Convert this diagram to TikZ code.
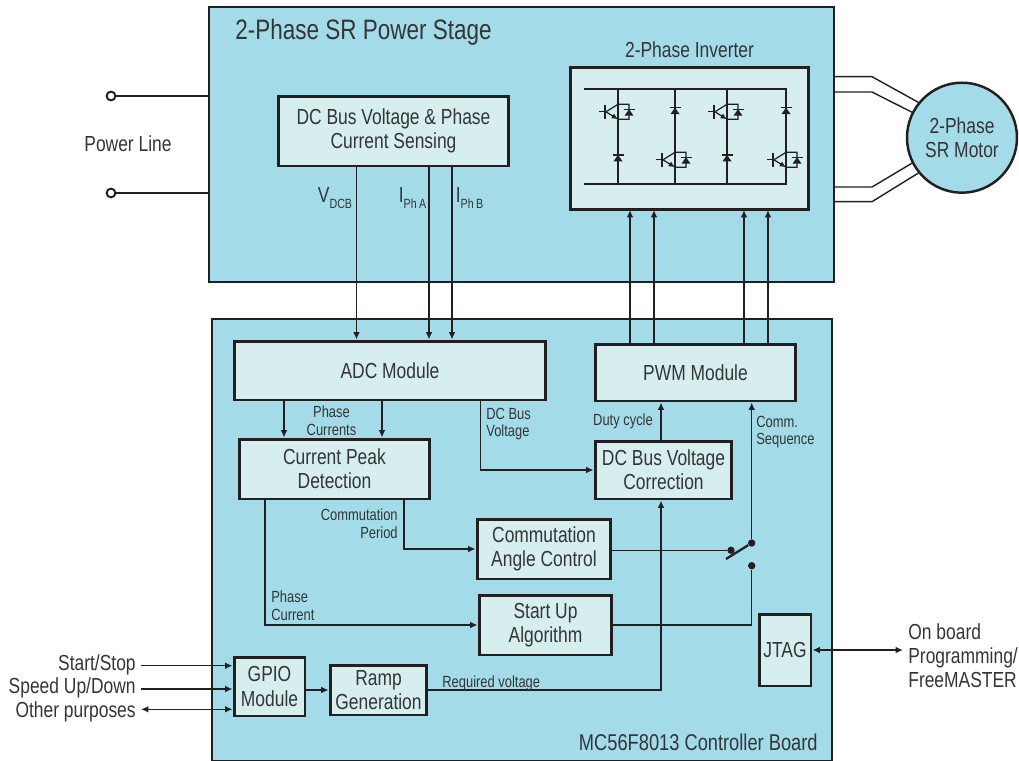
\documentclass[tikz,border=0pt]{standalone}
\usepackage{fontspec}
\setmainfont[FakeStretch=0.8]{Liberation Sans}
\usepackage{xcolor}
\usetikzlibrary{positioning, arrows.meta}
\definecolor{boardcolor}{HTML}{A3DCE8}
\definecolor{blockcolor}{HTML}{D6EEEE}
\definecolor{linecolor}{HTML}{231F20}
\definecolor{labelcolor}{HTML}{333538}
\newcommand{\sublabel}[2]{#1{\raisebox{-0.45ex}{\fontsize{7.6}{8}\selectfont #2}}}

\begin{document}
\begin{tikzpicture}[
      % GLOBAL CFG
      x=0.02cm,
      y=-0.02cm,
      >={Latex[length=4.2pt,width=3.8pt]},
      font=\fontsize{12.4}{13.6}\selectfont,
      text=labelcolor,
      % Styles
      board/.style={% For the two large boards
        rectangle,
        draw=linecolor,
        line width=1.4pt,
        fill=boardcolor,
        inner sep=0pt
      },
      block/.style={% For functions
        rectangle,
        draw=linecolor,
        line width=1.7pt,
        fill=blockcolor,
        align=center,
        inner sep=0pt
      },
      txt/.style={% For big free labels
        align=center,
        inner sep=0pt
      },
      small/.style={% For signal names
        align=left,
        inner sep=0pt,
        font=\fontsize{9.2}{10.2}\selectfont
      },
      wire/.style={
        draw=linecolor,
        line width=0.8pt
      },
      arrowsignal/.style={% Arrows between blocks
        wire,
        ->
      },
      terminal/.style={
        circle,
        draw=linecolor,
        line width=1.1pt,
        fill=white,
        minimum size=5pt,
        inner sep=0pt
      },
      dot/.style={
        circle,
        fill=linecolor,
        minimum size=4.2pt,
        inner sep=0pt
      },
      fine/.style={
        draw=linecolor,
        line width=0.7pt
      },
      diode/.pic={
        \fill [linecolor] (-4.5,3.3) -- (4.5,3.3) -- (0,-3) -- cycle;
        \draw [fine] (-5.5,-3) -- (5.5,-3);
      },
      igbt/.pic={% Collector on top, emitter below
        \draw [fine] (-19,7.5) -- (-13,7.5);
        \draw [fine, line width=0.9pt] (-13,0.5) -- (-13,14.5);
        \draw [fine] (-12,7.5) -- (0,0) -- (11,0) -- (11,15) -- (0,15);
        \draw [fine, -{Latex[length=3.6pt,width=3.2pt]}] (-12,7.5) -- (0,15);
        \pic at (11,8) {diode};
      }
      ]

      \useasboundingbox (0,0) rectangle (1019,761);

      % Start with the two boards
      \node [board, minimum width=12.5cm, minimum height=5.5cm] (power) at (521.5,144.5) {};
      \node [board, minimum width=12.4cm, minimum height=8.84cm] (controller) at (522,540) {};
      \node [txt, font=\fontsize{16}{18}\selectfont] (powertitle) at (363.5,32) {2-Phase SR Power Stage};
      \node [txt, anchor=east, font=\fontsize{13}{14}\selectfont] (controllertitle) at (818,742) {MC56F8013 Controller Board};

      % Blocks of the power stage
      \node [block, minimum width=4.62cm, minimum height=1.4cm] (sensing) at (393.5,131) {DC Bus Voltage \& Phase\\Current Sensing};
      \node [block, minimum width=4.78cm, minimum height=2.86cm] (inverter) at (689.5,138.5) {};
      \node [txt] (invertertitle) at (689.5,50) {2-Phase Inverter};

      % Blocks of the controller board
      \node [block, minimum width=6.24cm, minimum height=1.18cm] (adc) at (390,370.5) {ADC Module};
      \node [block, minimum width=4.02cm, minimum height=1.14cm] (pwm) at (695.5,372.5) {PWM Module};
      \node [block, minimum width=3.82cm, minimum height=1.2cm] (peak) at (334.5,469) {Current Peak\\Detection};
      \node [block, minimum width=2.74cm, minimum height=1.16cm] (correction) at (663.5,470) {DC Bus Voltage\\Correction};
      \node [block, minimum width=2.68cm, minimum height=1.2cm] (commangle) at (544,549) {Commutation\\Angle Control};
      \node [block, minimum width=2.66cm, minimum height=1.2cm] (startup) at (545.5,625) {Start Up\\Algorithm};
      \node [block, minimum width=1.04cm, minimum height=1.44cm] (jtag) at (785,650) {JTAG};
      \node [block, minimum width=1.42cm, minimum height=1.18cm] (gpio) at (269.5,686.5) {GPIO\\[0.8pt]Module};
      \node [block, minimum width=1.94cm, minimum height=1cm] (ramp) at (378.5,690) {Ramp\\Generation};

      % Power line
      \node [terminal] (line1) at (111,96) {};
      \node [terminal] (line2) at (111,193) {};
      \node [txt] (powerline) at (128,144) {Power Line};
      \draw [wire] (line1) -- (line1 -| power.west);
      \draw [wire] (line2) -- (line2 -| power.west);

      % Motor and its wires
      \coordinate (bend1) at (872,76.7);
      \coordinate (bend2) at (872,92);
      \coordinate (bend3) at (872,187);
      \coordinate (bend4) at (872,201.7);
      \node [circle, draw=linecolor, line width=1.4pt, fill=boardcolor, minimum size=2.2cm, inner sep=0pt, align=center] (motor) at (962,137.7) {2-Phase\\SR Motor};
      \draw [wire] (bend1 -| power.east) -- (bend1) -- (motor.141.5);
      \draw [wire] (bend2 -| power.east) -- (bend2) -- (motor.153);
      \draw [wire] (bend3 -| power.east) -- (bend3) -- (motor.207);
      \draw [wire] (bend4 -| power.east) -- (bend4) -- (motor.219);

      % Inverter
      \coordinate (rail1) at (584,89);
      \coordinate (rail2) at (584,184);
      \coordinate (leg1) at (618,89);
      \coordinate (leg2) at (675,89);
      \coordinate (leg3) at (727,89);
      \coordinate (leg4) at (786,89);
      \draw [fine] (rail1) -- (rail1 -| leg4) -- (rail2 -| leg4) -- (rail2);
      \foreach \leg in {leg1,leg3} {
        \draw [fine] (\leg) -- (\leg |- rail2);
        \path (\leg) ++(0,15.3) pic {igbt};
        \path (\leg) ++(0,69) pic {diode};
      }
      \foreach \leg in {leg2,leg4} {
        \draw [fine] (\leg) -- (\leg |- rail2);
        \path (\leg) ++(0,63.3) pic {igbt};
        \path (\leg) ++(0,21.7) pic {diode};
      }

      % Sensing signals
      \coordinate (vdcb) at (356.5,166);
      \coordinate (ipha) at (429,166);
      \coordinate (iphb) at (452,166);
      \draw [arrowsignal] (vdcb) -- (vdcb |- adc.north);
      \draw [arrowsignal] (ipha) -- (ipha |- adc.north);
      \draw [arrowsignal] (iphb) -- (iphb |- adc.north);
      \node [txt] (vlabel) at (335,198) {\sublabel{V}{DCB}};
      \node [txt] (ialabel) at (412.5,198) {\sublabel{I}{Ph\,A}};
      \node [txt] (iblabel) at (469.5,198) {\sublabel{I}{Ph\,B}};

      % PWM to inverter
      \foreach \gate in {630,654,744,768} {
        \draw [arrowsignal] (\gate,344) -- (\gate,210);
      }

      % Signals on the controller board
      \coordinate (phase1) at (284,400);
      \coordinate (phase2) at (382,400);
      \draw [arrowsignal] (phase1) -- (phase1 |- peak.north);
      \draw [arrowsignal] (phase2) -- (phase2 |- peak.north);
      \node [small, align=center] (phaselabel) at (331.5,421) {Phase\\Currents};

      \coordinate (dcbus) at (480.7,400);
      \draw [arrowsignal] (dcbus) -- (dcbus |- correction.west) -- (correction.west);
      \node [small, anchor=west] (dcbuslabel) at (486,424) {DC Bus\\Voltage};

      \coordinate (duty) at (661,499);
      \draw [arrowsignal] (duty |- correction.north) -- (duty |- pwm.south);
      \node [small] (dutylabel) at (623,421.5) {Duty cycle};

      \coordinate (period) at (404,499);
      \draw [arrowsignal] (period) -- (period |- commangle.west) -- (commangle.west);
      \node [small, anchor=east, align=right] (periodlabel) at (398,524) {Commutation\\Period};

      \coordinate (phasecur) at (265,499);
      \draw [arrowsignal] (phasecur) -- (phasecur |- startup.west) -- (startup.west);
      \node [small, anchor=west] (phasecurlabel) at (271,606) {Phase\\Current};

      % Commutation switch
      \node [dot] (swtop) at (751.7,543) {};
      \node [dot] (swlow) at (751.7,565.7) {};
      \node [dot] (swleft) at (731,550.3) {};
      \coordinate (swend) at (726,559);
      \draw [linecolor, line width=1.3pt] (swend) -- (swtop);
      \draw [wire] (commangle.east |- swleft) -- (swleft);
      \draw [wire] (startup.east) -- (startup.east -| swlow) -- (swlow);
      \draw [arrowsignal] (swtop) -- (swtop |- pwm.south);
      \node [small, anchor=west] (seqlabel) at (756,432) {Comm.\\Sequence};

      % GPIO side
      \coordinate (start) at (141,665.7);
      \coordinate (speed) at (141,689);
      \coordinate (other) at (141,709.3);
      \draw [arrowsignal] (start) -- (start -| gpio.west);
      \draw [arrowsignal] (speed) -- (speed -| gpio.west);
      \draw [arrowsignal, <->] (other) -- (other -| gpio.west);
      \node [txt, anchor=east] (startlabel) at (136,664.5) {Start/Stop};
      \node [txt, anchor=east] (speedlabel) at (136,687.5) {Speed Up/Down};
      \node [txt, anchor=east] (otherlabel) at (136,711.5) {Other purposes};
      \draw [arrowsignal] (gpio.east |- ramp.west) -- (ramp.west);

      \draw [arrowsignal] (ramp.east) -- (ramp.east -| duty) -- (duty |- correction.south);
      \node [small, anchor=west] (requiredlabel) at (442,683) {Required voltage};

      % JTAG
      \coordinate (outside) at (903,650);
      \draw [arrowsignal, <->] (jtag.east) -- (outside);
      \node [txt, anchor=west, align=left] (boardlabel) at (908,656) {On board\\Programming/\\FreeMASTER};
    \end{tikzpicture}
\end{document}
